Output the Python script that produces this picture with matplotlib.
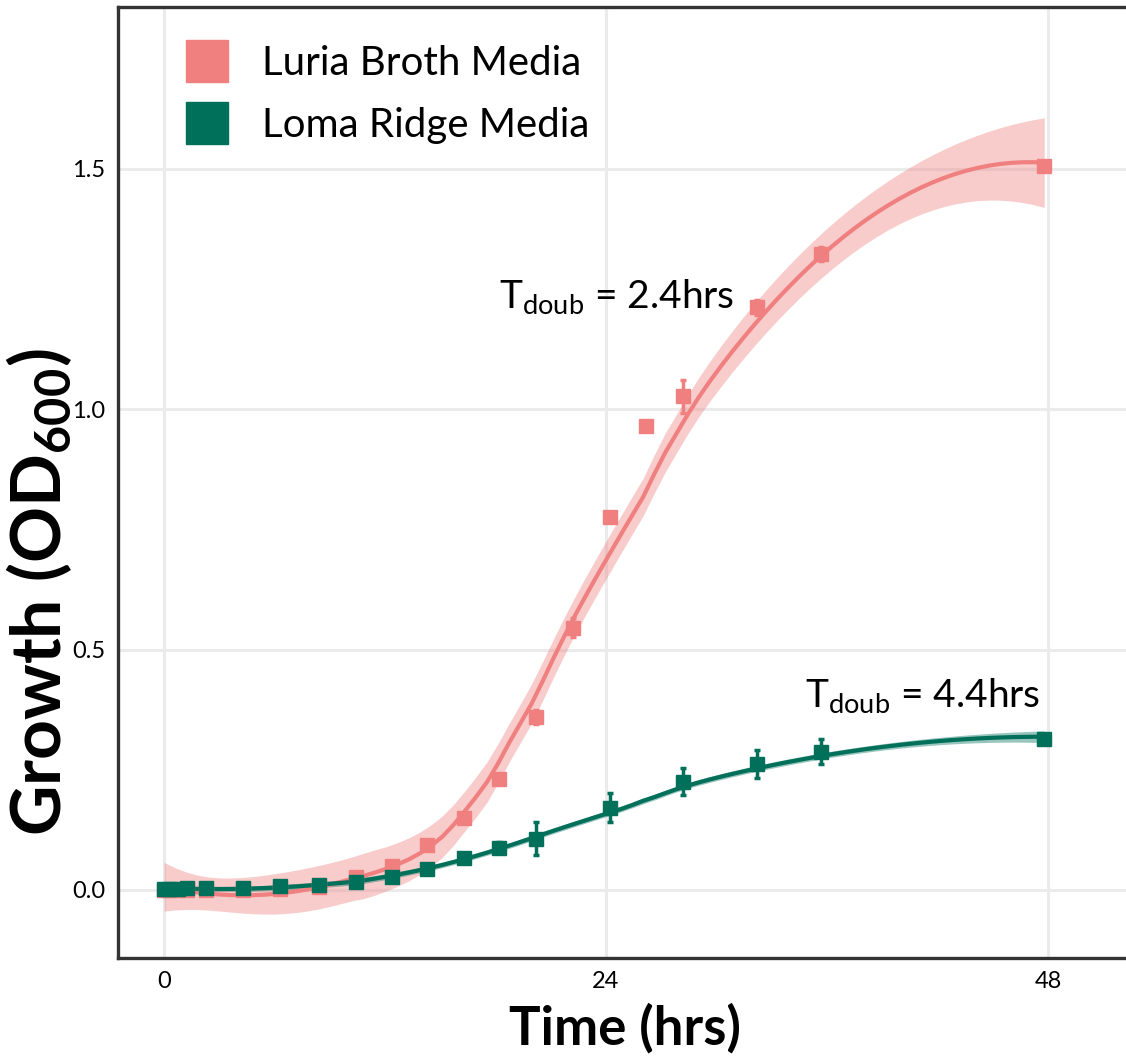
import numpy as np
import matplotlib
matplotlib.use("Agg")
import matplotlib.pyplot as plt
from matplotlib.lines import Line2D

# growth curve data (means and error bars)
time_lb = [0, 0.25, 0.75, 1.25, 2.3, 4.3, 6.3, 8.4, 10.4, 12.4, 14.3, 16.3,
           18.2, 20.2, 22.2, 24.2, 26.2, 28.2, 32.2, 35.7, 47.8]
od_lb = [0.0, 0.0, 0.0, 0.0, 0.0, 0.0, 0.002, 0.006, 0.027, 0.05, 0.094, 0.15,
         0.23, 0.36, 0.546, 0.775, 0.965, 1.027, 1.212, 1.323, 1.506]
err_lb = [0.003, 0.003, 0.003, 0.003, 0.003, 0.003, 0.003, 0.004, 0.005, 0.006, 0.006, 0.008,
          0.008, 0.015, 0.02, 0.01, 0.008, 0.035, 0.015, 0.015, 0.01]

time_lr = [0, 0.25, 0.75, 1.25, 2.3, 4.3, 6.3, 8.4, 10.4, 12.4, 14.3, 16.3,
           18.2, 20.2, 24.2, 28.2, 32.2, 35.7, 47.8]
od_lr = [0.002, 0.003, 0.003, 0.004, 0.004, 0.005, 0.008, 0.011, 0.017, 0.027, 0.044, 0.067,
         0.088, 0.107, 0.171, 0.225, 0.262, 0.288, 0.315]
err_lr = [0.003, 0.003, 0.003, 0.003, 0.003, 0.003, 0.003, 0.004, 0.005, 0.006, 0.006, 0.008,
          0.012, 0.035, 0.03, 0.028, 0.03, 0.026, 0.01]

labels = ["Luria Broth Media", "Loma Ridge Media"]
notes = [r"T$_{\mathrm{doub}}$ = 2.4hrs", r"T$_{\mathrm{doub}}$ = 4.4hrs"]
note_pos = [(18.2, 1.21), (34.8, 0.38)]

pink = "#F08080"
green = "#00705A"


def loess(x, y, xs, span=0.75):
    # local quadratic fit with tricube weights, like R's loess defaults
    x = np.asarray(x, float)
    y = np.asarray(y, float)
    n = len(x)
    q = int(np.floor(n * span))

    def rows(points):
        out = []
        for x0 in points:
            d = np.abs(x - x0)
            h = np.sort(d)[q - 1]
            w = np.clip(1 - (d / h) ** 3, 0, None) ** 3
            X = np.column_stack([np.ones(n), x - x0, (x - x0) ** 2])
            XtW = X.T * w
            out.append(np.linalg.solve(XtW @ X, XtW)[0])
        return np.array(out)

    L = rows(x)
    resid = y - L @ y
    M = np.eye(n) - L
    MM = M.T @ M
    d1 = np.trace(MM)
    d2 = np.trace(MM @ MM)
    sigma = np.sqrt(np.sum(resid ** 2) / d1)
    df = d1 ** 2 / d2
    z = 1.959964
    t = z + (z ** 3 + z) / (4 * df) + (5 * z ** 5 + 16 * z ** 3 + 3 * z) / (96 * df ** 2)
    Ls = rows(xs)
    fit = Ls @ y
    se = sigma * np.sqrt(np.sum(Ls ** 2, axis=1))
    return fit, t * se


plt.rcParams["font.family"] = ["Lato", "DejaVu Sans"]
plt.rcParams["mathtext.fontset"] = "custom"
plt.rcParams["mathtext.rm"] = "Lato"
plt.rcParams["mathtext.it"] = "Lato:italic"
plt.rcParams["mathtext.bf"] = "Lato:bold"

fig = plt.figure(figsize=(11.26, 10.61), dpi=100)
ax = fig.add_axes([118 / 1126, 103 / 1061, 1022 / 1126, 951 / 1061])

for tt, od, err, col, lab in [(time_lb, od_lb, err_lb, pink, labels[0]),
                              (time_lr, od_lr, err_lr, green, labels[1])]:
    xs = np.linspace(min(tt), max(tt), 80)
    fit, band = loess(tt, od, xs)
    ax.fill_between(xs, fit - band, fit + band, color=col, alpha=0.4, lw=0, zorder=2)
    ax.plot(xs, fit, color=col, lw=3, zorder=3)
    ax.errorbar(tt, od, yerr=err, fmt="s", color=col, ms=10, elinewidth=2.5,
                capsize=2, capthick=2.5, zorder=4)

for txt, (x, y) in zip(notes, note_pos):
    ax.text(x, y, txt, fontsize=28, ha="left", va="baseline", zorder=5)

ax.set_xlim(-2.5, 53.0)
ax.set_ylim(-0.1415, 1.837)
ax.set_xticks([0, 24, 48])
ax.set_yticks([0, 0.5, 1.0, 1.5])
ax.set_yticklabels(["0.0", "0.5", "1.0", "1.5"])
ax.tick_params(length=0, labelsize=17, pad=9)
ax.grid(True, color="#EBEBEB", lw=2.2, zorder=0)
ax.set_axisbelow(True)
for s in ax.spines.values():
    s.set_color("#333333")
    s.set_linewidth(2.4)

ax.set_xlabel("Time (hrs)", fontsize=38, fontweight="bold")
ax.xaxis.set_label_coords(0.496, -0.0736)
ax.xaxis.label.set_va("center")
ax.set_ylabel(r"Growth (OD$_{\mathbf{600}}$)", fontsize=50, fontweight="bold")
ax.yaxis.set_label_coords(-0.077, 0.385)
ax.yaxis.label.set_va("center")

handles = [Line2D([], [], marker="s", ls="", ms=30, color=pink),
           Line2D([], [], marker="s", ls="", ms=30, color=green)]
ax.legend(handles, labels, loc="upper left", bbox_to_anchor=(0.0675, 0.960),
          frameon=False, fontsize=29, handlelength=1.0, handletextpad=0.87,
          labelspacing=0.62, borderpad=0, borderaxespad=0)

fig.savefig("out.png", dpi=100)
